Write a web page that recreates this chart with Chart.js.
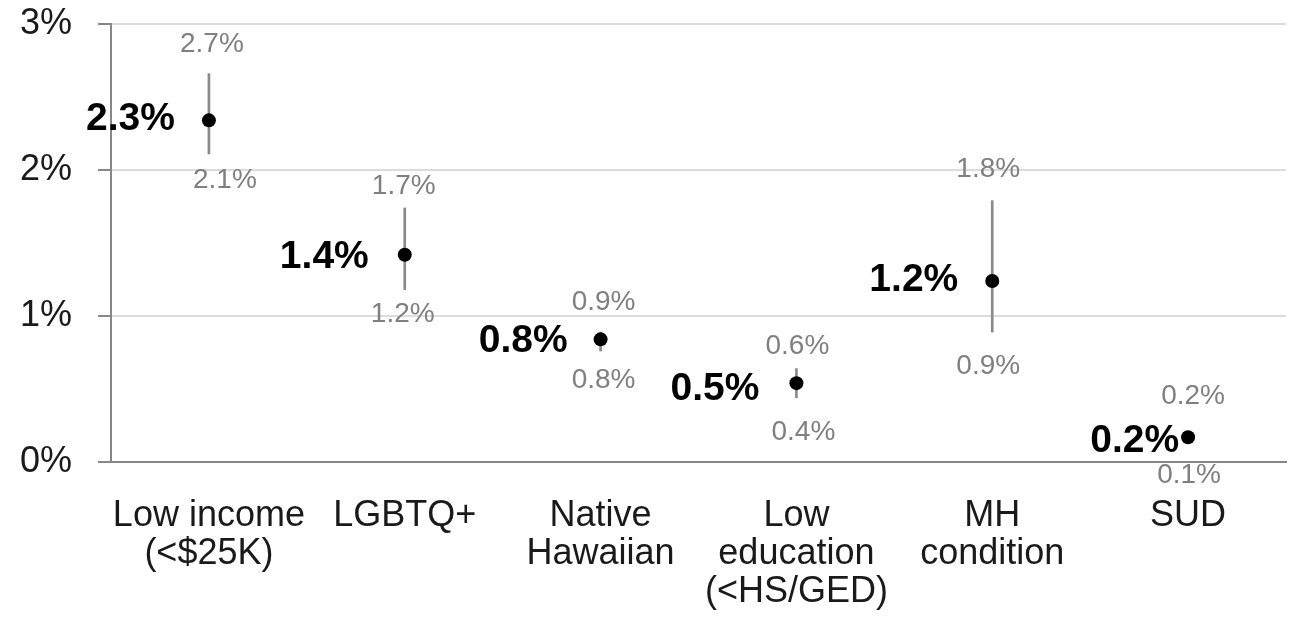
<!DOCTYPE html>
<html>
<head>
<meta charset="utf-8">
<script src="https://cdn.jsdelivr.net/npm/chart.js@4"></script>
<style>
  html, body { margin: 0; padding: 0; background: #ffffff; }
  #wrap { width: 1293px; height: 643px; }
</style>
</head>
<body>
<div id="wrap"><canvas id="c" width="1293" height="643"></canvas></div>
<script>
// Groups and estimated rates (%) with their confidence intervals
const categories = [
  ['Low income', '(<$25K)'],
  ['LGBTQ+'],
  ['Native', 'Hawaiian'],
  ['Low', 'education', '(<HS/GED)'],
  ['MH', 'condition'],
  ['SUD']
];
const rate  = [2.34, 1.42, 0.84, 0.54, 1.24, 0.17];
const lower = [2.11, 1.18, 0.76, 0.44, 0.89, 0.13];
const upper = [2.66, 1.74, 0.89, 0.64, 1.79, 0.20];
const yTicks = [0, 1, 2, 3];

const FONT = "'Liberation Sans', Arial, Helvetica, sans-serif";
const pct = v => v.toFixed(1) + '%';

// Draws the bold estimate to the left of each point and the CI bounds above/below
const valueLabels = {
  id: 'valueLabels',
  afterDatasetsDraw(chart, args, opts) {
    const ctx = chart.ctx;
    const xs = chart.scales.x, ys = chart.scales.y;
    ctx.save();
    rate.forEach((v, i) => {
      const x = xs.getPixelForValue(i);
      const yPt = ys.getPixelForValue(v);
      const yHi = ys.getPixelForValue(upper[i]);
      const yLo = ys.getPixelForValue(lower[i]);

      ctx.textBaseline = 'middle';
      ctx.textAlign = 'center';
      ctx.fillStyle = opts.ciColor;
      ctx.font = '28px ' + FONT;
      ctx.fillText(pct(upper[i]), x + opts.topShift[i], yHi - opts.topGap[i]);
      ctx.fillText(pct(lower[i]), x + opts.bottomShift[i], yLo + opts.bottomGap[i]);

      ctx.textAlign = 'right';
      ctx.fillStyle = opts.rateColor;
      ctx.font = 'bold 39px ' + FONT;
      ctx.fillText(pct(v), x - opts.rateGap[i], yPt + opts.rateDy[i]);
    });
    ctx.restore();
  }
};

new Chart(document.getElementById('c'), {
  data: {
    labels: categories,
    datasets: [
      {
        type: 'line',
        label: 'Rate',
        data: rate,
        showLine: false,
        pointRadius: 7,
        pointHoverRadius: 7,
        pointBackgroundColor: '#000000',
        pointBorderWidth: 0,
        order: 0
      },
      {
        type: 'bar',
        label: '95% CI',
        data: lower.map((lo, i) => [lo, upper[i]]),
        backgroundColor: '#8a8a8a',
        barThickness: 2,
        borderWidth: 0,
        order: 1
      }
    ]
  },
  options: {
    responsive: false,
    devicePixelRatio: 1,
    animation: false,
    layout: { padding: { left: 0, right: 7, top: 24, bottom: 0 } },
    plugins: {
      legend: { display: false },
      tooltip: { enabled: false },
      valueLabels: {
        ciColor: '#808080',
        rateColor: '#000000',
        topGap:      [29, 22, 30, 22, 31, 37],
        bottomGap:   [26, 25, 29, 35, 34, 32],
        topShift:    [3, -1, 3, 1, -4, 5],
        bottomShift: [16, -2, 3, 7, -4, 1],
        rateGap:     [34, 36, 33, 37, 34, 9],
        rateDy:      [-1, 3, 2, 6, -1, 4]
      }
    },
    scales: {
      x: {
        type: 'category',
        offset: true,
        grid: { display: false, drawTicks: false },
        border: { display: true, color: '#878787', width: 2 },
        ticks: {
          color: '#1a1a1a',
          font: { family: FONT, size: 36, lineHeight: 1.056 },
          padding: 35,
          maxRotation: 0,
          minRotation: 0,
          autoSkip: false
        },
        afterFit(scale) { scale.height = 181; }
      },
      y: {
        min: 0,
        max: 3,
        afterBuildTicks(scale) { scale.ticks = yTicks.map(v => ({ value: v })); },
        grid: {
          color: '#dcdcdc',
          lineWidth: 2,
          tickColor: '#878787',
          tickLength: 13,
          drawTicks: true
        },
        border: { display: true, color: '#878787', width: 2 },
        ticks: {
          color: '#1a1a1a',
          font: { family: FONT, size: 36 },
          padding: 26,
          callback: v => v + '%'
        },
        afterFit(scale) {
          scale.width = 111;
          scale.paddingTop = 0;
          scale.paddingBottom = 0;
        }
      }
    }
  },
  plugins: [valueLabels]
});
</script>
</body>
</html>
